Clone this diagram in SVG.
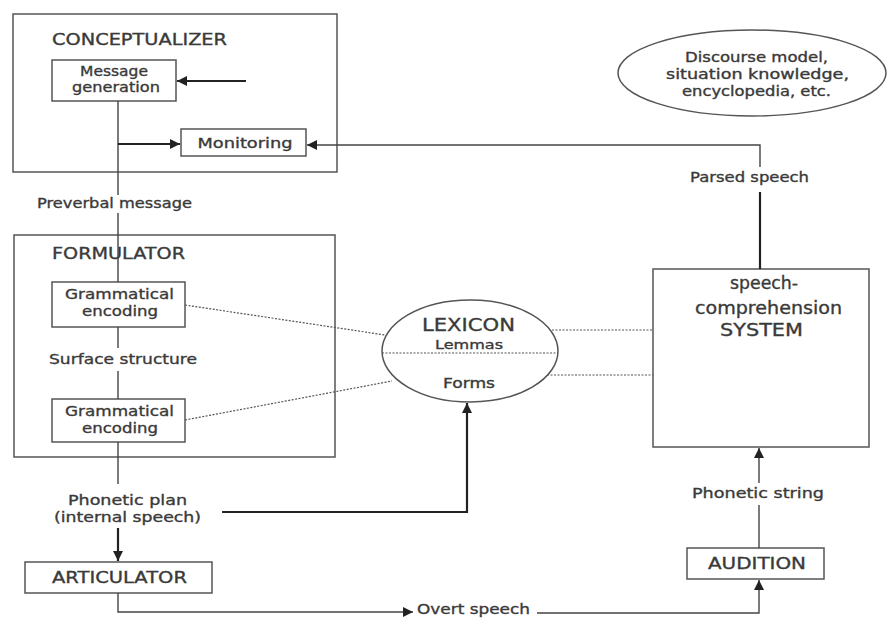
<svg xmlns="http://www.w3.org/2000/svg" width="887" height="618" viewBox="0 0 887 618">
  <defs>
    <marker id="arrow" viewBox="0 0 10 10" refX="10" refY="5" markerWidth="11" markerHeight="10" markerUnits="userSpaceOnUse" orient="auto">
      <path d="M0,0 L10,5 L0,10 z" fill="#222"/>
    </marker>
    <style>
      .box { fill: #fff; stroke: #555; stroke-width: 1.5; }
      .t { font-family: "DejaVu Sans", "Liberation Sans", sans-serif; fill: #3a3a3a; stroke: #3a3a3a; stroke-width: 0.35; text-anchor: middle; font-size: 14.5px; }
      .title { font-size: 15.5px; }
      .big { font-size: 18px; }
      .sys { font-size: 17.5px; }
      .small { font-size: 13.5px; }
      .tiny { font-size: 12.5px; }
      .line { fill: none; stroke: #444; stroke-width: 1.4; }
      .thick { fill: none; stroke: #222; stroke-width: 2.2; }
      .dot { fill: none; stroke: #555; stroke-width: 1.2; stroke-dasharray: 2 1.5; }
    </style>
  </defs>
  <rect width="887" height="618" fill="#fff"/>

  <!-- Conceptualizer -->
  <g id="conceptualizer">
    <rect class="box" x="13" y="14" width="324" height="158"/>
    <text class="t title" x="139.5" y="45" textLength="175" lengthAdjust="spacingAndGlyphs">CONCEPTUALIZER</text>
  </g>
  <g id="message-generation">
    <rect class="box" x="52" y="60" width="124" height="41"/>
    <text class="t" x="114" y="76" textLength="68" lengthAdjust="spacingAndGlyphs">Message</text>
    <text class="t" x="116" y="92" textLength="88" lengthAdjust="spacingAndGlyphs">generation</text>
  </g>
  <g id="monitoring">
    <rect class="box" x="181" y="129" width="125" height="27"/>
    <text class="t" x="245" y="148" textLength="95" lengthAdjust="spacingAndGlyphs">Monitoring</text>
  </g>

  <!-- Formulator -->
  <g id="formulator">
    <rect class="box" x="14" y="235" width="321" height="222"/>
    <text class="t title" x="118.5" y="259" textLength="133" lengthAdjust="spacingAndGlyphs">FORMULATOR</text>
  </g>
  <g id="grammatical-encoding-1">
    <rect class="box" x="52" y="282" width="133" height="45"/>
    <text class="t" x="119.5" y="299" textLength="109" lengthAdjust="spacingAndGlyphs">Grammatical</text>
    <text class="t" x="120" y="316" textLength="76" lengthAdjust="spacingAndGlyphs">encoding</text>
  </g>
  <g id="grammatical-encoding-2">
    <rect class="box" x="52" y="399" width="133" height="43"/>
    <text class="t" x="119.5" y="416" textLength="109" lengthAdjust="spacingAndGlyphs">Grammatical</text>
    <text class="t" x="120" y="433" textLength="76" lengthAdjust="spacingAndGlyphs">encoding</text>
  </g>

  <!-- Lexicon -->
  <g id="lexicon">
    <ellipse class="box" cx="470" cy="351" rx="88" ry="51"/>
    <line class="dot" x1="382" y1="353" x2="558" y2="353"/>
    <text class="t big" x="468.5" y="331" textLength="93" lengthAdjust="spacingAndGlyphs">LEXICON</text>
    <text class="t tiny" x="469" y="349" textLength="68" lengthAdjust="spacingAndGlyphs">Lemmas</text>
    <text class="t small" x="469" y="388" textLength="52" lengthAdjust="spacingAndGlyphs">Forms</text>
  </g>

  <!-- Speech comprehension -->
  <g id="speech-comprehension">
    <rect class="box" x="653" y="269" width="216" height="178"/>
    <text class="t sys" x="764" y="289" textLength="68" lengthAdjust="spacingAndGlyphs">speech-</text>
    <text class="t sys" x="768.5" y="314" textLength="147" lengthAdjust="spacingAndGlyphs">comprehension</text>
    <text class="t sys" x="761.5" y="336" textLength="83" lengthAdjust="spacingAndGlyphs">SYSTEM</text>
  </g>

  <!-- Knowledge store -->
  <g id="discourse-model">
    <ellipse class="box" cx="752" cy="73" rx="134" ry="43"/>
    <text class="t small" x="756.5" y="62" textLength="143" lengthAdjust="spacingAndGlyphs">Discourse model,</text>
    <text class="t small" x="757.5" y="79" textLength="183" lengthAdjust="spacingAndGlyphs">situation knowledge,</text>
    <text class="t small" x="756.5" y="96" textLength="149" lengthAdjust="spacingAndGlyphs">encyclopedia, etc.</text>
  </g>

  <!-- Articulator / Audition -->
  <g id="articulator">
    <rect class="box" x="25" y="562" width="187" height="31"/>
    <text class="t title" x="119.5" y="583" textLength="135" lengthAdjust="spacingAndGlyphs">ARTICULATOR</text>
  </g>
  <g id="audition">
    <rect class="box" x="687" y="548" width="137" height="31"/>
    <text class="t title" x="757" y="569" textLength="98" lengthAdjust="spacingAndGlyphs">AUDITION</text>
  </g>

  <!-- Flow labels -->
  <g id="labels">
    <text class="t" x="114.5" y="208" textLength="155" lengthAdjust="spacingAndGlyphs">Preverbal message</text>
    <text class="t" x="123" y="364" textLength="148" lengthAdjust="spacingAndGlyphs">Surface structure</text>
    <text class="t" x="127.5" y="505" textLength="119" lengthAdjust="spacingAndGlyphs">Phonetic plan</text>
    <text class="t" x="127.5" y="522" textLength="147" lengthAdjust="spacingAndGlyphs">(internal speech)</text>
    <text class="t" x="749.5" y="182" textLength="119" lengthAdjust="spacingAndGlyphs">Parsed speech</text>
    <text class="t" x="758" y="498" textLength="132" lengthAdjust="spacingAndGlyphs">Phonetic string</text>
    <text class="t" x="473.5" y="614" textLength="113" lengthAdjust="spacingAndGlyphs">Overt speech</text>
  </g>

  <!-- Connectors -->
  <g id="connectors">
    <line class="thick" x1="246" y1="81" x2="177" y2="81" marker-end="url(#arrow)"/>
    <line class="line" x1="118" y1="101" x2="118" y2="195"/>
    <line class="thick" x1="118" y1="144" x2="180" y2="144" marker-end="url(#arrow)"/>
    <polyline class="line" points="760,167 760,145 307,145" marker-end="url(#arrow)"/>
    <line class="line" x1="118" y1="213" x2="118" y2="282"/>
    <line class="line" x1="118" y1="327" x2="118" y2="348"/>
    <line class="line" x1="118" y1="371" x2="118" y2="399"/>
    <line class="line" x1="118" y1="442" x2="118" y2="484"/>
    <line class="thick" x1="118" y1="528" x2="118" y2="561" marker-end="url(#arrow)"/>
    <polyline class="thick" points="222,512 467,512 467,403" marker-end="url(#arrow)"/>
    <polyline class="line" points="118,593 118,612 413,612" marker-end="url(#arrow)"/>
    <polyline class="line" points="537,613 759,613 759,580" marker-end="url(#arrow)"/>
    <line class="line" x1="759" y1="548" x2="759" y2="505"/>
    <line class="line" x1="759" y1="483" x2="759" y2="448" marker-end="url(#arrow)"/>
    <line class="thick" x1="760" y1="192" x2="760" y2="269" stroke-width="2.8"/>
    <line class="dot" x1="185" y1="305" x2="385" y2="335"/>
    <line class="dot" x1="185" y1="420" x2="392" y2="381"/>
    <line class="dot" x1="552" y1="330" x2="653" y2="330"/>
    <line class="dot" x1="547" y1="375" x2="653" y2="375"/>
  </g>
</svg>
